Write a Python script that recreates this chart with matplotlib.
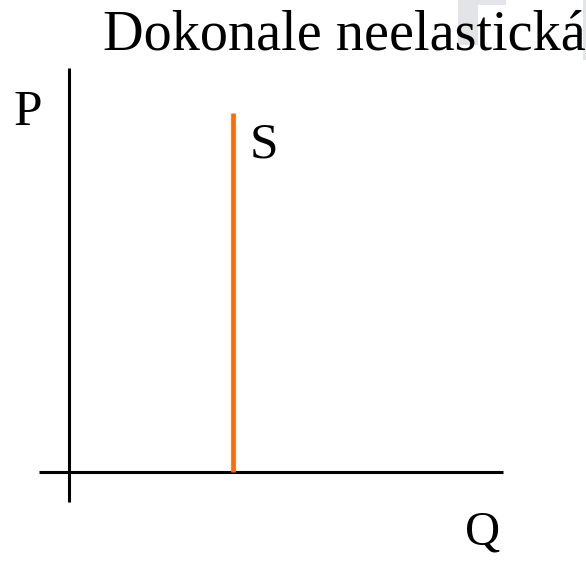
import matplotlib.pyplot as plt
from matplotlib.patches import Rectangle

# diagram data (pixel-like coordinates, y grows downward)
title = 'Dokonale neelastická'
p_axis_x = 69
p_axis_y = [68, 502]
q_axis_y = 472
q_axis_x = [39, 503]
supply_q = [233, 233]
supply_p = [113, 472]

fig = plt.figure(figsize=(5.86, 5.62), dpi=100)
ax = fig.add_axes([0, 0, 1, 1])
ax.set_xlim(0, 586)
ax.set_ylim(562, 0)
ax.axis('off')

# faded background shapes in the top right corner
ax.add_patch(Rectangle((458, 0), 20, 45, color='#e3e4e7', lw=0, zorder=0))
ax.add_patch(Rectangle((458, 0), 48, 5, color='#e3e4e7', lw=0, zorder=0))
ax.add_patch(Rectangle((583, 0), 3, 60, color='#e3e4e7', lw=0, zorder=0))

font = 'Liberation Serif'
ax.text(103, 50, title, fontsize=40.5, family=font, va='baseline', ha='left')

ax.plot([p_axis_x, p_axis_x], p_axis_y, color='black', lw=2.2, solid_capstyle='butt')
ax.plot(q_axis_x, [q_axis_y, q_axis_y], color='black', lw=2.2, solid_capstyle='butt')
ax.plot(supply_q, supply_p, color='#ff6a0e', lw=3.4, solid_capstyle='butt')

ax.text(14, 125, 'P', fontsize=37, family=font, va='baseline', ha='left')
ax.text(250, 157, 'S', fontsize=37, family=font, va='baseline', ha='left')
ax.text(465, 545, 'Q', fontsize=35, family=font, va='baseline', ha='left')

fig.savefig('out.png', dpi=100)
